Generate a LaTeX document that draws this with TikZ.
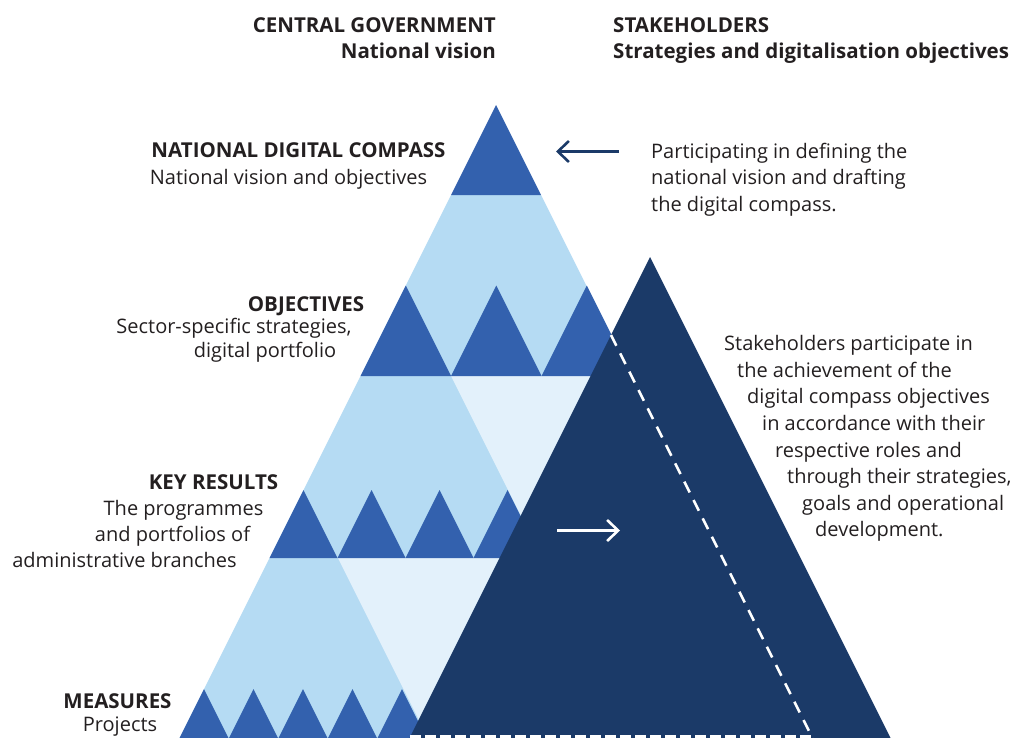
\documentclass[tikz,border=0pt]{standalone}
\usepackage{fontspec}
\setmainfont{Open Sans}
\usetikzlibrary{arrows.meta}
\definecolor{ink}{HTML}{231F20}
\definecolor{pyrdark}{HTML}{3361AE}
\definecolor{pyrlight}{HTML}{B5DBF3}
\definecolor{pyrpale}{HTML}{E3F1FB}
\definecolor{navy}{HTML}{1B3A68}

\begin{document}
\begin{tikzpicture}[x=1pt,y=-1pt,
  txt/.style={inner sep=0pt, text=ink, font=\fontsize{20}{24}\selectfont},
  head/.style={inner sep=0pt, text=ink, font=\fontsize{20.5}{24}\selectfont\bfseries},
  darktri/.style={fill=pyrdark},
  flowarrow/.style={line width=2.6pt, -{Straight Barb[length=11pt,width=21pt,line width=2.6pt]}},
  hiddenedge/.style={white, line width=2.5pt, dash pattern=on 12pt off 8.5pt},
]
\useasboundingbox (0,0) rectangle (1017,737);

\begin{scope}
  \clip (0,0) rectangle (1017,737);

  % central government pyramid: light body
  \fill[pyrlight] (451,195) -- (541,195) -- (812.75,738.5) -- (179.25,738.5) -- cycle;
  % pale inverted triangles
  \fill[pyrpale] (451,376) -- (632,376) -- (541.5,557) -- cycle;
  \fill[pyrpale] (338,558) -- (500,558) -- (419,720) -- cycle;
  % apex
  \fill[darktri] (496,105) -- (541,195) -- (451,195) -- cycle;
  % objectives row
  \foreach \i in {0,1,2}
    \fill[darktri] ({360.5+90.5*\i},376) -- ++(90.5,0) -- ++(-45.25,-90.5) -- cycle;
  % key results row
  \foreach \i in {0,...,3}
    \fill[darktri] ({269.5+68*\i},558) -- ++(68,0) -- ++(-34,-68) -- cycle;
  % measures row
  \foreach \i in {0,...,4}
    \fill[darktri] ({179.25+49.5*\i},738.5) -- ++(49.5,0) -- ++(-24.75,-49.5) -- cycle;

  % stakeholders pyramid
  \fill[navy] (650,257) -- (892,741) -- (408,741) -- cycle;

  % hidden edges of the central pyramid
  \coordinate (edgeTop) at (611,335);
  \coordinate (edgeBottom) at (814,741);
  \draw[hiddenedge] (edgeTop) -- (edgeBottom);
  \coordinate (baseLeft) at (410,736.5);
  \coordinate (baseRight) at (812,736.5);
  \draw[white, line width=2.2pt, dash pattern=on 11pt off 4pt] (baseLeft) -- (baseRight);
\end{scope}

% arrows
\coordinate (inStart) at (619,151.5);
\coordinate (inEnd) at (556,151.5);
\draw[flowarrow, navy] (inStart) -- (inEnd);
\coordinate (outStart) at (557,530.5);
\coordinate (outEnd) at (620,530.5);
\draw[flowarrow, white] (outStart) -- (outEnd);

% column headings
\node[head, anchor=base east] (cg1) at (496,32) {CENTRAL GOVERNMENT};
\node[head, anchor=base east] (cg2) at (496,58) {National vision};
\node[head, anchor=base west] (sh1) at (613,32) {STAKEHOLDERS};
\node[head, anchor=base west] (sh2) at (613,58) {Strategies and digitalisation objectives};

% level labels
\node[head, anchor=base] (ndc1) at (298.5,157) {NATIONAL DIGITAL COMPASS};
\node[txt, anchor=base] (ndc2) at (288.5,184) {National vision and objectives};

\node[head, anchor=base] (obj1) at (306,311) {OBJECTIVES};
\node[txt, anchor=base] (obj2) at (234,333.5) {Sector-specific strategies,};
\node[txt, anchor=base] (obj3) at (265,357.5) {digital portfolio};

\node[head, anchor=base] (kr1) at (213.5,489) {KEY RESULTS};
\node[txt, anchor=base] (kr2) at (183.5,515) {The programmes};
\node[txt, anchor=base] (kr3) at (172.5,541) {and portfolios of};
\node[txt, anchor=base] (kr4) at (124.5,567) {administrative branches};

\node[head, anchor=base] (me1) at (117.5,708) {MEASURES};
\node[txt, anchor=base] (me2) at (120,731) {Projects};

% stakeholder notes
\node[txt, anchor=base west] (pa1) at (651,158) {Participating in defining the};
\node[txt, anchor=base west] (pa2) at (651,184.5) {national vision and drafting};
\node[txt, anchor=base west] (pa3) at (651,211) {the digital compass.};

\node[txt, anchor=base west] (st1) at (724,350) {Stakeholders participate in};
\node[txt, anchor=base west] (st2) at (737,377) {the achievement of the};
\node[txt, anchor=base west] (st3) at (747,403) {digital compass objectives};
\node[txt, anchor=base west] (st4) at (762,430) {in accordance with their};
\node[txt, anchor=base west] (st5) at (775,457) {respective roles and};
\node[txt, anchor=base west] (st6) at (787,483) {through their strategies,};
\node[txt, anchor=base west] (st7) at (802,510) {goals and operational};
\node[txt, anchor=base west] (st8) at (815,536) {development.};
\end{tikzpicture}
\end{document}
